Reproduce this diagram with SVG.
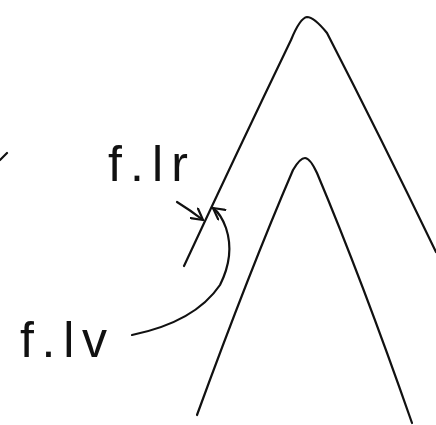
<svg xmlns="http://www.w3.org/2000/svg" width="436" height="425" viewBox="0 0 436 425">
<style>
.ln{fill:none;stroke:#111;stroke-width:2.2;stroke-linecap:round;stroke-linejoin:round}
.lbl{font-family:"Liberation Sans",Arial,sans-serif;font-size:50px;font-weight:normal;fill:#111}
</style>
<defs>
<marker id="ah" viewBox="0 0 14 14" refX="12" refY="7" markerWidth="14" markerHeight="14" markerUnits="userSpaceOnUse" orient="auto">
<path d="M1,1 L12,7 L1,13" fill="none" stroke="#111" stroke-width="2.2" stroke-linecap="round" stroke-linejoin="round"/>
</marker>
</defs>
<rect width="436" height="425" fill="#fff"/>
<g id="outer-peak">
<path class="ln" d="M184,266 Q238,150 291,40 Q300,18 307,17 Q314,17 327,33 Q382,140 436,252"/>
</g>
<g id="inner-peak">
<path class="ln" d="M197,415 Q250,270 293,170 Q300,158 305,158 Q310,158 317,173 Q362,280 412,423"/>
</g>
<g id="edge-mark">
<path class="ln" d="M0,160 L7,153"/>
</g>
<g id="label-flr">
<text class="lbl" x="108" y="181" textLength="80" lengthAdjust="spacing">f.lr</text>
</g>
<g id="label-flv">
<text class="lbl" x="20" y="357" textLength="87" lengthAdjust="spacing">f.lv</text>
</g>
<g id="connectors">
<path class="ln" d="M177,202 Q190,210 203,220" marker-end="url(#ah)"/>
<path class="ln" d="M132,335 Q195,322 220,285 Q235,255 226,228 Q221,214 213,208" marker-end="url(#ah)"/>
</g>
</svg>
